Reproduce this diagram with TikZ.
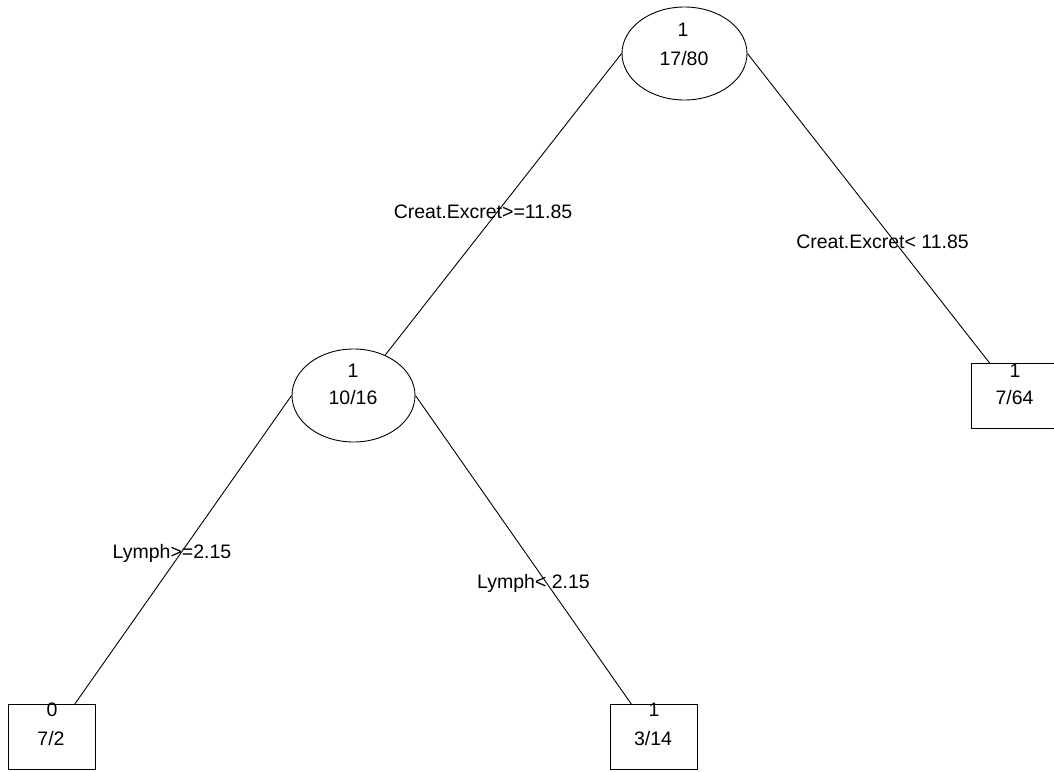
\documentclass[tikz,border=0pt]{standalone}
\usepackage{fontspec}
\setmainfont{Liberation Sans}
\usetikzlibrary{shapes.geometric,backgrounds}
\begin{document}
\begin{tikzpicture}[x=1pt,y=-1pt,
 every node/.style={font=\fontsize{19.5}{23}\selectfont},
 split/.style={ellipse,draw,fill=white,inner sep=0pt,line width=0.9pt},
 leaf/.style={rectangle,draw,fill=white,inner sep=0pt,minimum width=87pt,minimum height=65pt,line width=0.9pt},
 txt/.style={anchor=base,inner sep=0pt},
 edge/.style={line width=0.9pt}]
\useasboundingbox (0,0) rectangle (1054,771);
\clip (0,0) rectangle (1054,771);
% split nodes
\node[split,minimum width=125pt,minimum height=93pt] (root) at (684.5,53.5) {};
\node[split,minimum width=123pt,minimum height=93pt] (n2) at (353.5,395.5) {};
% leaves
\node[leaf] (la) at (52,736.5) {};
\node[leaf] (lb) at (654,736.5) {};
\node[leaf] (lc) at (1015,395.5) {};
% connectors
\begin{scope}[on background layer]
\draw[edge] (root.west) -- (n2.center);
\draw[edge] (root.east) -- (lc.center);
\draw[edge] (n2.west) -- (la.center);
\draw[edge] (n2.east) -- (lb.center);
\end{scope}
% node texts
\node[txt] (root-a) at (683,36) {1};
\node[txt] (root-b) at (684,65) {17/80};
\node[txt] (n2-a) at (353,377) {1};
\node[txt] (n2-b) at (353,404) {10/16};
\node[txt] (la-a) at (52,716.5) {0};
\node[txt] (la-b) at (51,745) {7/2};
\node[txt] (lb-a) at (654,716.5) {1};
\node[txt] (lb-b) at (653,745) {3/14};
\node[txt] (lc-a) at (1015,377) {1};
\node[txt] (lc-b) at (1014.5,404.5) {7/64};
% edge labels
\node[txt] (e1) at (483,218) {Creat.Excret>=11.85};
\node[txt] (e2) at (882.5,248) {Creat.Excret< 11.85};
\node[txt] (e3) at (172,558) {Lymph>=2.15};
\node[txt] (e4) at (533.5,588) {Lymph< 2.15};
\end{tikzpicture}
\end{document}
